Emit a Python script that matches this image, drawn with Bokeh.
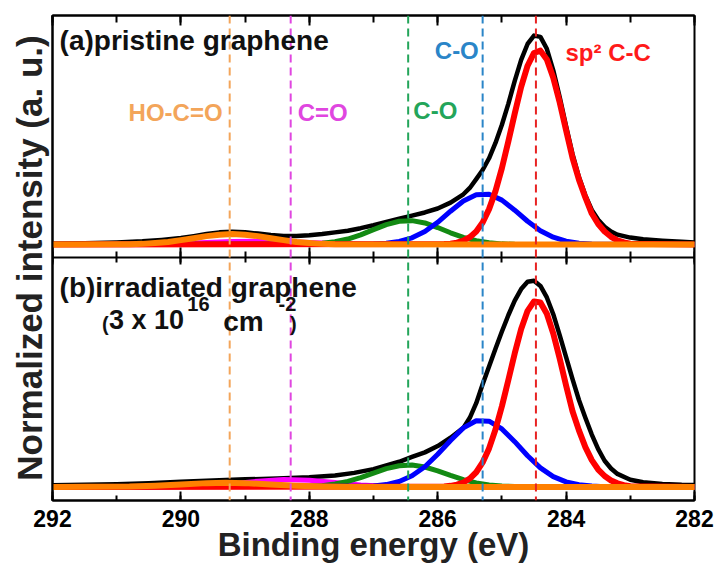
from bokeh.plotting import figure
from bokeh.models import (Range1d, LinearAxis, SingleIntervalTicker, FixedTicker,
                          Span, Label, ColumnDataSource)
from bokeh.transform import dodge
from bokeh.embed import file_html
from bokeh.resources import INLINE

# ---------------- data ----------------
# panel (a): pristine graphene
E_BLACK_A = [292.0, 291.5, 291.0, 290.6, 290.3, 290.0, 289.8, 289.6, 289.4, 289.2, 289.0,
             288.8, 288.6, 288.4, 288.2, 288.0, 287.8, 287.6, 287.4, 287.2, 287.0, 286.8,
             286.6, 286.4, 286.2, 286.0, 285.8, 285.6, 285.5, 285.4, 285.3, 285.2, 285.1,
             285.0, 284.9, 284.8, 284.7, 284.6, 284.5, 284.4, 284.3, 284.2, 284.1, 284.0,
             283.9, 283.8, 283.7, 283.6, 283.5, 283.4, 283.3, 283.2, 283.0, 282.8, 282.5,
             282.2, 282.0]
I_BLACK_A = [0.004, 0.006, 0.010, 0.015, 0.022, 0.031, 0.040, 0.050, 0.058, 0.061, 0.058,
             0.052, 0.045, 0.041, 0.041, 0.044, 0.050, 0.058, 0.066, 0.078, 0.092, 0.108,
             0.123, 0.138, 0.153, 0.172, 0.200, 0.240, 0.270, 0.312, 0.356, 0.412, 0.485,
             0.572, 0.672, 0.782, 0.882, 0.958, 0.998, 0.992, 0.935, 0.832, 0.705, 0.565,
             0.432, 0.322, 0.235, 0.165, 0.118, 0.085, 0.062, 0.047, 0.033, 0.025, 0.018,
             0.013, 0.010]

E_RED = [292.0, 285.9, 285.8, 285.7, 285.6, 285.5, 285.4, 285.3, 285.2, 285.1, 285.0,
         284.9, 284.8, 284.7, 284.6, 284.5, 284.4, 284.3, 284.2, 284.1, 284.0, 283.9,
         283.8, 283.7, 283.6, 283.5, 283.4, 283.3, 283.2, 283.1, 283.0, 282.0]
I_RED_A = [0.0, 0.002, 0.004, 0.009, 0.018, 0.035, 0.062, 0.105, 0.169, 0.255, 0.365,
           0.492, 0.626, 0.753, 0.854, 0.915, 0.926, 0.884, 0.797, 0.679, 0.545, 0.414,
           0.310, 0.225, 0.148, 0.098, 0.062, 0.037, 0.020, 0.010, 0.004, 0.0]

E_BLUE_A = [292.0, 287.0, 286.8, 286.6, 286.4, 286.2, 286.0, 285.8, 285.6, 285.4, 285.2,
            285.0, 284.8, 284.6, 284.4, 284.2, 284.0, 283.8, 283.6, 282.0]
I_BLUE_A = [0.0, 0.002, 0.006, 0.015, 0.032, 0.062, 0.106, 0.159, 0.208, 0.238, 0.240,
            0.212, 0.164, 0.111, 0.066, 0.035, 0.016, 0.006, 0.002, 0.0]

E_GREEN = [292.0, 288.0, 287.8, 287.6, 287.4, 287.2, 287.0, 286.8, 286.6, 286.4, 286.2,
           286.0, 285.8, 285.6, 285.4, 285.2, 285.0, 284.8, 282.0]
I_GREEN_A = [0.0, 0.002, 0.006, 0.013, 0.026, 0.046, 0.071, 0.095, 0.111, 0.114, 0.103,
             0.081, 0.056, 0.034, 0.018, 0.008, 0.003, 0.001, 0.0]

E_MAGENTA_A = [292.0, 290.4, 290.0, 289.6, 289.2, 288.8, 288.4, 288.0, 287.6, 287.2, 286.8, 282.0]
I_MAGENTA_A = [0.0, 0.002, 0.005, 0.010, 0.014, 0.015, 0.014, 0.010, 0.005, 0.002, 0.0, 0.0]

E_ORANGE_A = [292.0, 291.0, 290.8, 290.6, 290.4, 290.2, 290.0, 289.8, 289.6, 289.4, 289.2,
              289.0, 288.8, 288.6, 288.4, 288.2, 288.0, 287.8, 287.6, 282.0]
I_ORANGE_A = [0.0, 0.001, 0.001, 0.003, 0.007, 0.012, 0.021, 0.030, 0.040, 0.047, 0.050,
              0.047, 0.040, 0.030, 0.021, 0.012, 0.007, 0.003, 0.001, 0.0]

# panel (b): irradiated graphene
E_BLACK_B = [292.0, 291.5, 291.0, 290.5, 290.0, 289.5, 289.0, 288.5, 288.0, 287.6, 287.3,
             287.0, 286.8, 286.6, 286.4, 286.2, 286.0, 285.8, 285.6, 285.5, 285.4, 285.3,
             285.2, 285.1, 285.0, 284.9, 284.8, 284.7, 284.6, 284.5, 284.4, 284.3, 284.2,
             284.1, 284.0, 283.9, 283.8, 283.7, 283.6, 283.5, 283.4, 283.3, 283.2, 283.0,
             282.8, 282.5, 282.2, 282.0]
I_BLACK_B = [0.008, 0.010, 0.013, 0.018, 0.024, 0.030, 0.036, 0.040, 0.046, 0.054, 0.067,
             0.085, 0.103, 0.120, 0.143, 0.165, 0.195, 0.235, 0.282, 0.330, 0.400, 0.490,
             0.575, 0.660, 0.742, 0.820, 0.890, 0.945, 0.980, 0.985, 0.960, 0.905, 0.825,
             0.725, 0.620, 0.515, 0.415, 0.330, 0.250, 0.180, 0.125, 0.088, 0.062, 0.034,
             0.022, 0.014, 0.010, 0.009]

I_RED_B = [0.0, 0.002, 0.005, 0.011, 0.021, 0.040, 0.070, 0.117, 0.184, 0.274, 0.385,
           0.510, 0.638, 0.754, 0.841, 0.886, 0.881, 0.827, 0.733, 0.613, 0.484, 0.361,
           0.270, 0.190, 0.128, 0.083, 0.052, 0.031, 0.017, 0.008, 0.003, 0.0]

E_BLUE_B = [292.0, 287.0, 286.8, 286.6, 286.4, 286.2, 286.0, 285.8, 285.6, 285.4, 285.2,
            285.0, 284.8, 284.6, 284.4, 284.2, 284.0, 283.8, 283.6, 283.4, 282.0]
I_BLUE_B = [0.0, 0.004, 0.011, 0.026, 0.053, 0.096, 0.156, 0.222, 0.282, 0.316, 0.314,
            0.277, 0.216, 0.149, 0.091, 0.049, 0.024, 0.010, 0.004, 0.001, 0.0]

I_GREEN_B = [0.0, 0.003, 0.006, 0.014, 0.026, 0.044, 0.066, 0.087, 0.101, 0.105, 0.095,
             0.077, 0.055, 0.035, 0.019, 0.009, 0.004, 0.002, 0.0]

E_MAGENTA_B = [292.0, 290.4, 290.0, 289.6, 289.2, 288.8, 288.4, 288.0, 287.6, 287.2, 286.8, 286.4, 282.0]
I_MAGENTA_B = [0.0, 0.000, 0.002, 0.006, 0.015, 0.027, 0.035, 0.032, 0.021, 0.009, 0.003, 0.001, 0.0]

E_ORANGE_B = [292.0, 290.8, 290.4, 290.0, 289.6, 289.3, 289.0, 288.6, 288.2, 287.8, 287.4, 282.0]
I_ORANGE_B = [0.0, 0.002, 0.006, 0.012, 0.018, 0.020, 0.018, 0.012, 0.006, 0.002, 0.0, 0.0]

# peak positions (dashed guide lines), eV
PEAK_NAMES = ["HO-C=O", "C=O", "C-O (green)", "C-O (blue)", "sp2 C-C"]
PEAK_POS = [289.24, 288.29, 286.46, 285.30, 284.47]
PEAK_COLORS = ["#f3a55a", "#e046e0", "#23a55a", "#2a85c8", "#e82222"]

X_MAJOR_TICKS = [292, 290, 288, 286, 284, 282]
X_TICK_INTERVAL = 2
TOP_OFFSET = 1.158     # vertical offset of panel (a)
SEPARATOR = 1.096      # boundary between panels

FONT = "Liberation Sans"
DY = 0.038             # small upward nudge for text labels

# ---------------- figure ----------------
p = figure(width=715, height=569, x_range=Range1d(292, 282), y_range=Range1d(-0.065, 2.252),
           output_backend="svg", toolbar_location=None,
           x_axis_location=None, y_axis_location=None,
           min_border_left=52, min_border_right=21, min_border_top=15, min_border_bottom=69)
p.grid.visible = False
p.outline_line_color = "black"
p.outline_line_width = 2
p.background_fill_color = "white"
p.border_fill_color = "white"


def tick_axis(axis, tin, tout, mtin, mtout):
    axis.major_tick_in = tin
    axis.major_tick_out = tout
    axis.minor_tick_in = mtin
    axis.minor_tick_out = mtout
    axis.major_tick_line_width = 2
    axis.minor_tick_line_width = 2
    axis.axis_line_width = 2
    axis.major_tick_line_color = "black"
    axis.minor_tick_line_color = "black"
    axis.axis_line_color = "black"


xb = LinearAxis(ticker=SingleIntervalTicker(interval=X_TICK_INTERVAL, num_minor_ticks=2),
                axis_label="Binding energy (eV)")
tick_axis(xb, 9, 0, 5, 0)
xb.major_label_text_font = FONT
xb.major_label_text_font_style = "bold"
xb.major_label_text_font_size = "23px"
xb.major_label_text_color = "black"
xb.major_label_standoff = 9
xb.axis_label_text_font = FONT
xb.axis_label_text_font_style = "bold"
xb.axis_label_text_font_size = "33px"
xb.axis_label_text_color = "#222222"
xb.axis_label_standoff = -4
p.add_layout(xb, "below")

blank = {t: "" for t in X_MAJOR_TICKS}

xt = LinearAxis(ticker=SingleIntervalTicker(interval=X_TICK_INTERVAL, num_minor_ticks=2))
tick_axis(xt, 10, 0, 7, 0)
xt.major_label_overrides = blank
xt.major_label_standoff = 0
p.add_layout(xt, "above")

xm = LinearAxis(ticker=SingleIntervalTicker(interval=X_TICK_INTERVAL, num_minor_ticks=2),
                fixed_location=SEPARATOR)
tick_axis(xm, 7, 10, 5, 6)
xm.major_label_overrides = blank
xm.major_label_standoff = 0
p.add_layout(xm, "above")

yl = LinearAxis(ticker=FixedTicker(ticks=[]), axis_label="Normalized intensity (a. u.)")
tick_axis(yl, 0, 0, 0, 0)
yl.major_label_standoff = 0
yl.axis_label_text_font = FONT
yl.axis_label_text_font_style = "bold"
yl.axis_label_text_font_size = "35px"
yl.axis_label_text_color = "#222222"
yl.axis_label_standoff = 4
p.add_layout(yl, "left")

# dashed guide lines
for pos, col in zip(PEAK_POS, PEAK_COLORS):
    p.add_layout(Span(location=pos, dimension="height", line_color=col,
                      line_width=2, line_dash="8 5"))

# curves
panels = [
    (0.0, [(E_BLACK_B, I_BLACK_B, "black", 4.5),
           (E_MAGENTA_B, I_MAGENTA_B, "#ff00ff", 5),
           (E_GREEN, I_GREEN_B, "#138a13", 5),
           (E_BLUE_B, I_BLUE_B, "#0000ff", 5),
           (E_RED, I_RED_B, "#ff0000", 6),
           (E_ORANGE_B, I_ORANGE_B, "#ff8000", 6)]),
    (TOP_OFFSET, [(E_BLACK_A, I_BLACK_A, "black", 4.5),
                  (E_MAGENTA_A, I_MAGENTA_A, "#ff00ff", 5),
                  (E_GREEN, I_GREEN_A, "#138a13", 5),
                  (E_BLUE_A, I_BLUE_A, "#0000ff", 5),
                  (E_RED, I_RED_A, "#ff0000", 6),
                  (E_ORANGE_A, I_ORANGE_A, "#ff8000", 6)]),
]
for off, curves in panels:
    for xs, ys, col, lw in curves:
        src = ColumnDataSource(dict(x=xs, y=ys))
        p.line(x="x", y=dodge("y", off), source=src, line_color=col, line_width=lw,
               line_join="round", line_cap="round")


def lab(x, y, text, size, color="black", align="left"):
    p.add_layout(Label(x=x, y=y + DY, text=text, text_font=FONT, text_font_style="bold",
                       text_font_size=size, text_color=color, text_align=align,
                       text_baseline="alphabetic"))


lab(291.89, 2.095, "(a)pristine graphene", "28px", "#111111")
lab(291.89, 0.916, "(b)irradiated graphene", "28px", "#111111")
lab(291.23, 0.738, "(", "20px", "#111111")
lab(291.12, 0.757, "3 x 10", "27px", "#111111")
lab(289.90, 0.838, "16", "20px", "#111111")
lab(289.34, 0.750, "cm", "28px", "#111111")
lab(288.48, 0.838, "-2", "20px", "#111111")
lab(288.30, 0.738, ")", "20px", "#111111")

lab(289.35, 1.750, "HO-C=O", "24px", "#f3a55a", "right")
lab(288.18, 1.750, "C=O", "24px", "#e046e0")
lab(286.38, 1.760, "C-O", "24px", "#23a55a")
lab(285.36, 2.047, "C-O", "24px", "#2a85c8", "right")
lab(284.01, 2.038, "sp\u00b2 C-C", "24px", "#ff1a1a")

open("out.html", "w").write(file_html(p, INLINE))
